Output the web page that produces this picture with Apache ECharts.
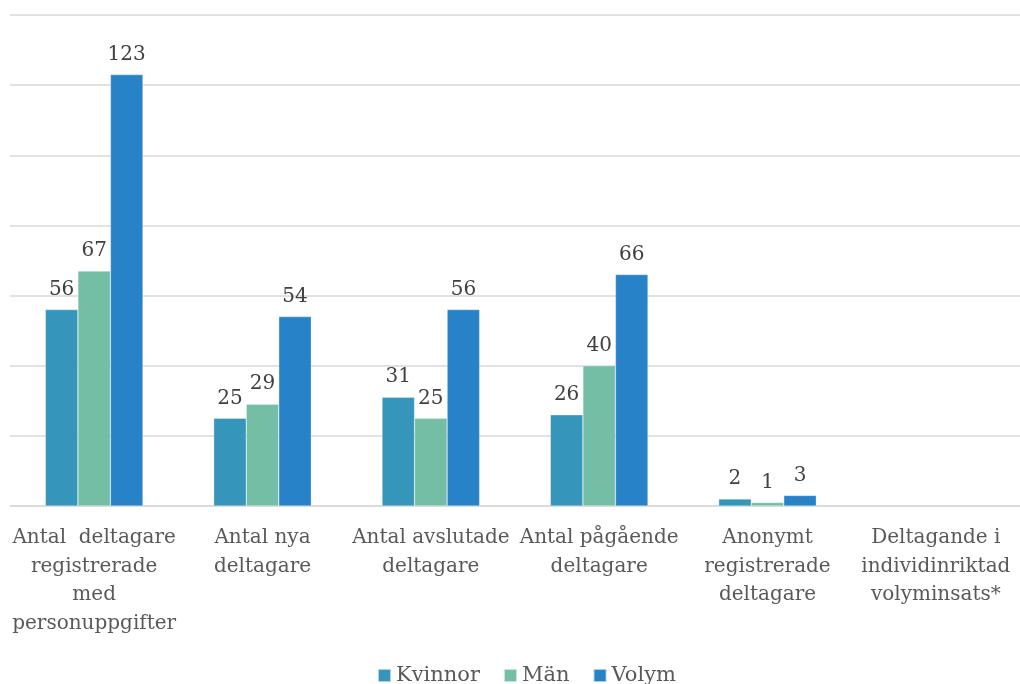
<!DOCTYPE html>
<html><head><meta charset="utf-8">
<script src="https://cdn.jsdelivr.net/npm/echarts@6/dist/echarts.min.js"></script>
<style>html,body{margin:0;padding:0;background:#fff}#c{width:1020px;height:684px}</style>
</head><body><div id="c"></div>
<script>
const categories = [
  "Antal  deltagare\nregistrerade\nmed\npersonuppgifter",
  "Antal nya\ndeltagare",
  "Antal avslutade\ndeltagare",
  "Antal pågående\ndeltagare",
  "Anonymt\nregistrerade\ndeltagare",
  "Deltagande i\nindividinriktad\nvolyminsats*"
];
const kvinnor = [56, 25, 31, 26, 2, null];
const man = [67, 29, 25, 40, 1, null];
const volym = [123, 54, 56, 66, 3, null];
const seriesNames = ["Kvinnor", "Män", "Volym"];
const colors = ["#3595bb", "#75bea6", "#2882c8"];
const FONT = "DejaVu Serif";

const chart = echarts.init(document.getElementById('c'), null, {renderer: 'canvas'});
const mk = (name, data, color) => ({
  name, type: 'bar', data, barGap: '0%', barCategoryGap: '42%',
  itemStyle: {color, borderColor: 'rgba(255,255,255,0.6)', borderWidth: 0.5},
  label: {show: true, position: 'top', distance: 10, color: '#404040', fontFamily: FONT, fontSize: 20},
  emphasis: {disabled: true}
});
chart.setOption({
  animation: false,
  textStyle: {fontFamily: FONT},
  grid: {left: 10, right: 0, top: 15, bottom: 178, containLabel: false},
  legend: {
    bottom: -7, left: 372, itemWidth: 13, itemHeight: 13, itemGap: 23,
    icon: 'rect', data: seriesNames,
    textStyle: {fontFamily: FONT, fontSize: 21, color: '#595959'}
  },
  xAxis: {
    type: 'category', data: categories,
    axisLine: {lineStyle: {color: '#d9d9d9', width: 1.5}},
    axisTick: {show: false},
    axisLabel: {interval: 0, margin: 18, fontFamily: FONT, fontSize: 20, lineHeight: 28.5, color: '#595959', align: 'center'}
  },
  yAxis: {
    type: 'value', min: 0, max: 140, interval: 20,
    axisLabel: {show: false}, axisLine: {show: false}, axisTick: {show: false},
    splitLine: {lineStyle: {color: '#d9d9d9', width: 1.5}}
  },
  series: [mk(seriesNames[0], kvinnor, colors[0]), mk(seriesNames[1], man, colors[1]), mk(seriesNames[2], volym, colors[2])]
});
</script></body></html>
